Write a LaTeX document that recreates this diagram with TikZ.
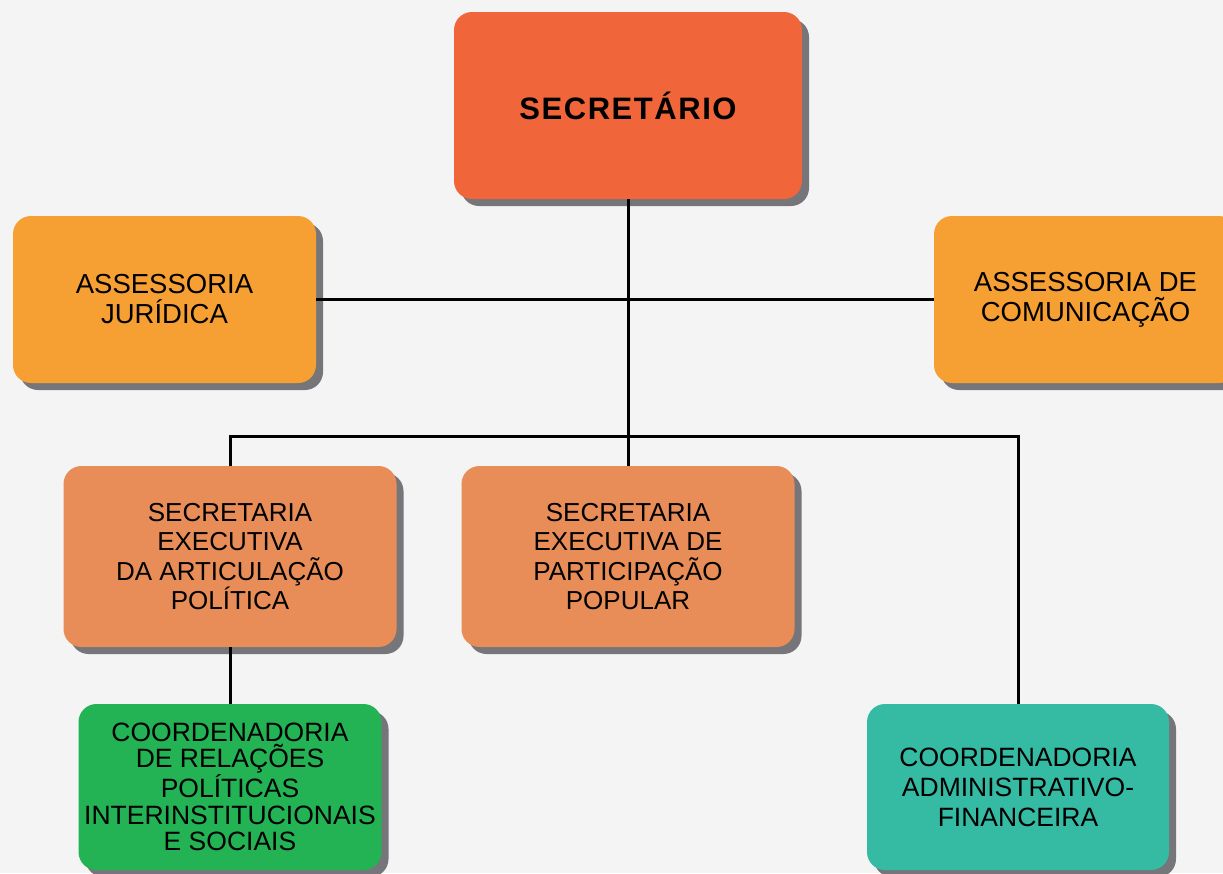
\documentclass[tikz,border=0pt]{standalone}
\usepackage{fontspec}
\setmainfont{Liberation Sans}
\newfontfamily\titlefont[LetterSpace=5]{Liberation Sans}
\usetikzlibrary{shadows}
\definecolor{bgc}{HTML}{F4F4F4}
\definecolor{shadowc}{HTML}{76767A}
\definecolor{secc}{HTML}{F06539}
\definecolor{assc}{HTML}{F6A033}
\definecolor{exec}{HTML}{E88D57}
\definecolor{greenc}{HTML}{23B254}
\definecolor{tealc}{HTML}{35BBA4}
\tikzset{
  x=1pt, y=-1pt,
  box/.style={rectangle, rounded corners=18pt, inner sep=0pt, align=center, text=black,
    drop shadow={shadow xshift=7pt, shadow yshift=-7pt, fill=shadowc, opacity=1}},
  conn/.style={line width=3pt, draw=black}
}
\begin{document}
\begin{tikzpicture}
\path[use as bounding box, fill=bgc] (0,0) rectangle (1223,873);
\clip (0,0) rectangle (1223,873);
\coordinate (busL) at (230,436);
\coordinate (busR) at (1018,436);
% nodes
\node[box, fill=secc, minimum width=348pt, minimum height=187pt, font=\titlefont\bfseries\fontsize{31}{34}\selectfont] (sec) at (628,105.5) {SECRET\'ARIO};
\node[box, fill=assc, minimum width=303pt, minimum height=167pt, font=\fontsize{27.5}{30}\selectfont] (jur) at (164.5,299.5) {ASSESSORIA\\JUR\'IDICA};
\node[box, fill=assc, minimum width=303pt, minimum height=167pt, font=\fontsize{27.5}{30}\selectfont] (com) at (1085.5,299.5) {ASSESSORIA DE\\COMUNICA\c{C}\~AO};
\node[box, fill=exec, minimum width=333pt, minimum height=181pt, font=\fontsize{26}{29.5}\selectfont] (art) at (230,556.5) {SECRETARIA\\EXECUTIVA\\DA ARTICULA\c{C}\~AO\\POL\'ITICA};
\node[box, fill=exec, minimum width=333pt, minimum height=181pt, font=\fontsize{26}{29.5}\selectfont] (part) at (628,556.5) {SECRETARIA\\EXECUTIVA DE\\PARTICIPA\c{C}\~AO\\POPULAR};
\node[box, fill=greenc, minimum width=303pt, minimum height=166pt, font=\fontsize{26.5}{26.7}\selectfont] (rel) at (230,787) {COORDENADORIA\\DE RELA\c{C}\~OES\\POL\'ITICAS\\INTERINSTITUCIONAIS\\E SOCIAIS};
\node[box, fill=tealc, minimum width=302pt, minimum height=166pt, font=\fontsize{26.5}{30}\selectfont] (adm) at (1018,787) {COORDENADORIA\\ADMINISTRATIVO-\\FINANCEIRA};
% connectors
\draw[conn] (sec.south) -- (part.north);
\draw[conn] (jur.east) -- (com.west);
\draw[conn] (art.north) -- (art.north |- busL) -- (busR) -- (adm.north);
\draw[conn] (art.south) -- (rel.north);
\end{tikzpicture}
\end{document}
